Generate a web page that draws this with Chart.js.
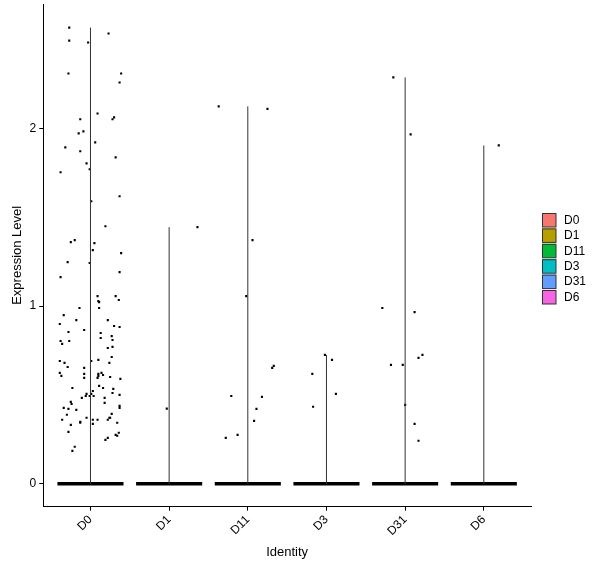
<!DOCTYPE html>
<html>
<head>
<meta charset="utf-8">
<script src="https://cdn.jsdelivr.net/npm/chart.js@4.4.1/dist/chart.umd.min.js"></script>
<style>
  body { margin: 0; background: #fff; }
</style>
</head>
<body>
<canvas id="vln" width="600" height="568"></canvas>
<script>
// identities and their legend colours (ggplot hue palette)
const groups = ['D0', 'D1', 'D11', 'D3', 'D31', 'D6'];
const groupColors = ['#F8766D', '#B79F00', '#00BA38', '#00BFC4', '#619CFF', '#F564E3'];

// non-zero cells: jitter offset from group centre, and expression value
const d0Jitter = [-0.27, 0.23, -0.27, -0.03, -0.28, 0.39, 0.37, 0.09, -0.13, 0.30, 0.28, -0.09, -0.15, 0.06, -0.32, -0.13, 0.32, -0.05, -0.01, -0.38,
  0.37, 0.01, 0.19, -0.25, -0.20, 0.05, 0.03, 0.39, -0.29, -0.01, 0.37, -0.38, 0.09, 0.10, 0.11, 0.32, 0.36, -0.14, 0.11, -0.34,
  -0.18, 0.22, -0.39, 0.30, 0.37, -0.08, -0.28, 0.13, 0.13, 0.27, 0.28, -0.38, -0.36, -0.27, 0.28, 0.22, 0.27, -0.39, -0.33, 0.01,
  0.10, 0.24, -0.29, -0.08, -0.39, -0.37, -0.08, -0.08, 0.10, 0.10, 0.14, 0.16, 0.09, 0.25, 0.38, -0.23, 0.11, 0.16, 0.29, 0.03,
  0.01, 0.28, -0.05, -0.06, -0.11, -0.01, 0.04, 0.37, 0.18, 0.18, -0.25, -0.24, -0.34, -0.28, -0.18, 0.37, 0.37, -0.30, 0.27, 0.25,
  -0.36, -0.05, -0.13, -0.13, 0.03, 0.09, 0.03, 0.22, 0.24, 0.34, -0.25, -0.28, 0.32, 0.34, 0.36, 0.19, 0.22, -0.20, -0.23];
const d0Expr = [2.567, 2.534, 2.494, 2.483, 2.309, 2.309, 2.258, 2.084, 2.051, 2.062, 2.051, 1.983, 1.972, 1.921, 1.893, 1.871, 1.837, 1.803, 1.770, 1.753,
  1.618, 1.590, 1.449, 1.360, 1.371, 1.354, 1.315, 1.298, 1.247, 1.242, 1.191, 1.163, 1.056, 1.028, 1.022, 1.056, 1.034, 0.989, 0.989, 0.949,
  0.921, 0.921, 0.899, 0.888, 0.882, 0.865, 0.854, 0.848, 0.820, 0.831, 0.809, 0.803, 0.787, 0.803, 0.770, 0.764, 0.713, 0.691, 0.680, 0.691,
  0.697, 0.680, 0.657, 0.652, 0.624, 0.607, 0.618, 0.596, 0.618, 0.607, 0.624, 0.612, 0.596, 0.601, 0.590, 0.539, 0.551, 0.539, 0.534, 0.522,
  0.506, 0.511, 0.506, 0.494, 0.483, 0.494, 0.494, 0.500, 0.483, 0.455, 0.461, 0.449, 0.427, 0.421, 0.416, 0.438, 0.427, 0.388, 0.393, 0.371,
  0.360, 0.371, 0.348, 0.343, 0.360, 0.360, 0.337, 0.360, 0.371, 0.343, 0.331, 0.292, 0.275, 0.270, 0.287, 0.247, 0.258, 0.208, 0.185];

const d1Jitter = [0.36, -0.03];
const d1Expr = [1.444, 0.423];

const d11Jitter = [-0.37, 0.25, 0.06, -0.02, 0.33, 0.31, -0.21, 0.18, 0.11, 0.08, -0.13, -0.28];
const d11Expr = [2.124, 2.110, 1.371, 1.056, 0.663, 0.652, 0.494, 0.489, 0.421, 0.354, 0.275, 0.258];

const d3Jitter = [-0.02, 0.07, -0.18, 0.12, -0.17];
const d3Expr = [0.725, 0.697, 0.618, 0.506, 0.433];

const d31Jitter = [-0.15, 0.07, -0.29, 0.12, 0.17, 0.22, -0.18, -0.03, 0.00, 0.12, 0.17];
const d31Expr = [2.287, 1.966, 0.989, 0.966, 0.708, 0.725, 0.669, 0.669, 0.444, 0.337, 0.242];

const d6Jitter = [0.19];
const d6Expr = [1.904];

// width of the jittered band of zero-expression cells
const zeroSpread = [-0.42, 0.42];

const yTicks = [0, 1, 2];

const jitters = [d0Jitter, d1Jitter, d11Jitter, d3Jitter, d31Jitter, d6Jitter];
const exprs = [d0Expr, d1Expr, d11Expr, d3Expr, d31Expr, d6Expr];

const datasets = [];
groups.forEach((g, i) => {
  const top = Math.max(0, ...exprs[i]);
  // violin is squeezed to a single line (almost all cells are zero)
  datasets.push({
    type: 'line',
    label: g + ' violin',
    data: [{ x: i, y: 0 }, { x: i, y: top }],
    borderColor: '#333',
    backgroundColor: groupColors[i],
    borderWidth: 1,
    pointRadius: 0,
  });
  datasets.push({
    type: 'line',
    label: g + ' zeros',
    data: zeroSpread.map((d) => ({ x: i + d, y: 0 })),
    borderColor: '#000',
    borderWidth: 3.5,
    pointRadius: 0,
  });
  datasets.push({
    type: 'scatter',
    label: g,
    data: exprs[i].map((v, k) => ({ x: i + jitters[i][k], y: v })),
    backgroundColor: '#000',
    borderWidth: 0,
    pointStyle: 'rect',
    pointRadius: 1.5,
  });
});

const legendBoxes = {
  id: 'legendBoxes',
  afterDraw(chart) {
    const ctx = chart.ctx;
    ctx.save();
    ctx.font = '12px "Liberation Sans", Arial, sans-serif';
    ctx.textBaseline = 'middle';
    groups.forEach((g, i) => {
      const y = 213 + i * 15.4;
      ctx.fillStyle = groupColors[i];
      ctx.fillRect(542, y, 14, 14);
      ctx.strokeStyle = '#333';
      ctx.lineWidth = 1;
      ctx.strokeRect(542.5, y + 0.5, 13.5, 13.5);
      ctx.fillStyle = '#000';
      ctx.fillText(g, 564, y + 7.5);
    });
    ctx.restore();
  },
};

const font = { family: '"Liberation Sans", Arial, sans-serif', size: 12 };

new Chart(document.getElementById('vln'), {
  type: 'scatter',
  data: { datasets },
  options: {
    responsive: false,
    animation: false,
    layout: { padding: { top: 2, right: 69, left: 2, bottom: 6 } },
    plugins: {
      legend: { display: false },
      tooltip: { enabled: false },
    },
    scales: {
      x: {
        type: 'linear',
        min: -0.6,
        max: 5.6,
        afterBuildTicks: (axis) => {
          axis.ticks = groups.map((g, i) => ({ value: i }));
        },
        ticks: {
          callback: (val) => groups[val],
          minRotation: 45,
          maxRotation: 45,
          color: '#000',
          font,
          padding: 2,
        },
        grid: { display: true, drawOnChartArea: false, drawTicks: true, tickLength: 4, color: '#000' },
        border: { color: '#000', width: 1 },
        title: { display: true, text: 'Identity', color: '#000', font: { ...font, size: 13 }, padding: { top: 4, bottom: 2 } },
      },
      y: {
        min: -0.129,
        max: 2.7,
        afterBuildTicks: (axis) => {
          axis.ticks = yTicks.map((v) => ({ value: v }));
        },
        afterFit: (axis) => {
          axis.paddingTop = 0;
        },
        ticks: { color: '#000', font, padding: 3 },
        grid: { display: true, drawOnChartArea: false, drawTicks: true, tickLength: 4, color: '#000' },
        border: { color: '#000', width: 1 },
        title: { display: true, text: 'Expression Level', color: '#000', font: { ...font, size: 13 }, padding: { top: 8, bottom: 1 } },
      },
    },
  },
  plugins: [legendBoxes],
});
</script>
</body>
</html>
